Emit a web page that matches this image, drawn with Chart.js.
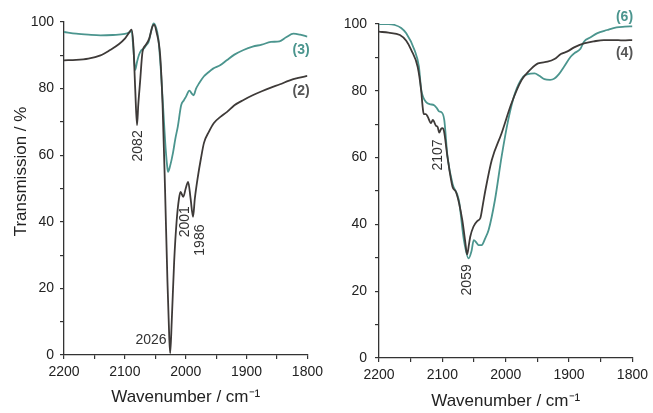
<!DOCTYPE html>
<html>
<head>
<meta charset="utf-8">
<script src="https://cdn.jsdelivr.net/npm/chart.js@4"></script>
<style>
  html, body { margin: 0; padding: 0; background: #fff; }
  #wrap { position: relative; width: 653px; height: 413px; }
  .box { position: absolute; top: 0; }
</style>
</head>
<body>
<div id="wrap">
  <div class="box" style="left:0"><canvas id="leftChart" width="328" height="413"></canvas></div>
  <div class="box" style="left:330px"><canvas id="rightChart" width="323" height="413"></canvas></div>
</div>
<script>
// left panel: spectra (2) and (3)
const wn2 = [2200, 2180, 2160, 2140, 2125, 2110, 2100, 2093, 2089, 2086, 2083, 2080, 2078, 2075, 2071, 2066, 2060, 2055, 2052, 2048, 2042, 2038, 2034, 2030, 2027, 2025.5, 2023, 2019, 2015, 2011, 2008.5, 2004, 2000, 1996, 1992, 1988, 1985, 1980.5, 1975, 1970, 1962, 1954, 1943, 1932, 1920, 1905, 1890, 1875, 1860, 1845, 1830, 1815, 1800];
const t2 = [88.5, 88.6, 89.0, 90.0, 91.5, 93.3, 95.0, 96.8, 97.7, 93, 80, 69, 75, 82, 91, 93, 95, 98.5, 99.2, 97, 90, 75, 50, 22, 5, 0.5, 10, 28, 40, 47, 49, 47.5, 50, 52, 47, 41.5, 47, 53, 59, 63.7, 67, 69.6, 71.5, 73, 75, 76.6, 78, 79.2, 80.3, 81.3, 82.4, 83.2, 83.8];

const wn3 = [2200, 2180, 2160, 2140, 2120, 2100, 2092, 2089, 2086, 2083, 2080, 2077, 2073, 2069, 2065, 2061, 2057, 2053, 2049, 2045, 2041, 2037, 2033, 2030, 2029, 2026, 2021, 2017, 2013, 2007.5, 2003, 1999.5, 1994, 1990, 1987, 1983, 1978, 1970, 1964.5, 1955, 1943.5, 1932, 1920, 1905, 1890, 1875, 1860, 1846, 1835, 1823, 1812, 1800];
const t3 = [97.0, 96.5, 96.2, 96.0, 96.1, 96.4, 97.0, 97.4, 92, 85.6, 88, 90, 91.5, 92, 93, 94, 97, 99.6, 98.5, 95, 86, 74, 62, 56, 55, 56.5, 60.6, 65, 68.6, 75, 76.5, 77.6, 79.4, 78.5, 78, 80, 81.6, 83.7, 84.6, 86, 87, 88.6, 90.2, 91.6, 92.6, 93.2, 94, 94.2, 95.4, 96.5, 96.2, 95.6];

// right panel: spectra (4) and (6)
const wn4 = [2200, 2185, 2167, 2157, 2149, 2139, 2133.5, 2131, 2129.5, 2126, 2123, 2118, 2115, 2110, 2107.5, 2105, 2102, 2100, 2097.5, 2092, 2084, 2078, 2068.5, 2064, 2061, 2058, 2056, 2051, 2045, 2040, 2036, 2032, 2022, 2006.5, 1991, 1975, 1965, 1962, 1949, 1934, 1923, 1913, 1902.5, 1892, 1876.5, 1861, 1845, 1830, 1815, 1800];
const t4 = [97.7, 97.4, 96.7, 95, 92.2, 87.2, 80.2, 75, 73.1, 73, 72.2, 70.3, 71.3, 69.5, 69.2, 67.5, 68.6, 68.8, 68, 60.3, 51.3, 49.5, 41.3, 35, 31, 34, 36.3, 39.3, 41, 41.9, 46, 50.3, 59.3, 67.3, 76.2, 83.2, 85.6, 86.2, 88.2, 88.7, 89.5, 91.0, 91.8, 93, 94.2, 94.8, 95.2, 95.2, 95.1, 95.2];

const wn6 = [2200, 2185, 2175, 2165, 2157, 2144, 2137, 2133.5, 2130, 2126, 2120, 2113, 2108, 2105, 2102.5, 2097, 2092, 2084, 2074, 2066, 2058.5, 2054, 2050.5, 2046, 2043, 2038, 2032, 2027, 2017, 2006.5, 1996, 1985.5, 1972.5, 1965, 1954.5, 1947, 1939, 1930, 1923, 1916, 1908, 1897.5, 1892, 1882, 1876.5, 1866, 1856, 1840, 1825, 1812, 1800];
const t6 = [100, 100, 99.7, 98.8, 97.2, 92.2, 87.2, 80.5, 78, 76.7, 76, 75.7, 74.6, 73.8, 73.7, 71.3, 60.5, 52.2, 47.3, 35.3, 29.8, 32, 35.3, 34.5, 33.8, 33.8, 36, 38.3, 47.3, 60.3, 71.3, 79.2, 84.2, 85, 85.2, 84.5, 83.5, 83.3, 83.7, 85, 87.2, 90.2, 91.2, 92.6, 94.7, 96, 97.2, 98.2, 99, 99.2, 99.3];

// peak labels (x = wavenumber, y = transmission)
const leftNotes = [
  { text: '2082', x: 2077.5, y: 62.8, rot: true },
  { text: '2001', x: 2001, y: 40, rot: true },
  { text: '1986', x: 1977, y: 34.5, rot: true },
  { text: '2026', x: 2057, y: 4.5 },
  { text: '(3)', x: 1810.5, y: 91.6, bold: true, teal: true },
  { text: '(2)', x: 1810.5, y: 79.3, bold: true }
];
const rightNotes = [
  { text: '2107', x: 2106.5, y: 60.8, rot: true },
  { text: '2059', x: 2061, y: 23.4, rot: true },
  { text: '(6)', x: 1812.5, y: 102.2, bold: true, teal: true },
  { text: '(4)', x: 1812.5, y: 91.2, bold: true }
];

const DARK = '#3e3a38';
const TEAL = '#4b958e';
const AXIS = '#333333';
const FONT = '"Liberation Sans", Arial, sans-serif';

const notesPlugin = {
  id: 'notes',
  afterDatasetsDraw(chart, args, opts) {
    const { ctx, scales: { x, y }, chartArea } = chart;
    (opts.items || []).forEach(n => {
      const px = x.getPixelForValue(n.x);
      const py = y.getPixelForValue(n.y);
      ctx.save();
      ctx.translate(px, py);
      if (n.rot) ctx.rotate(-Math.PI / 2);
      ctx.font = (n.bold ? 'bold ' : '') + '14px ' + FONT;
      ctx.fillStyle = n.teal ? TEAL : (n.bold ? '#555' : '#333');
      ctx.textAlign = 'center';
      ctx.textBaseline = 'middle';
      ctx.fillText(n.text, 0, 0);
      ctx.restore();
    });
    if (opts.yTitle) {
      ctx.save();
      ctx.translate(21, (chartArea.top + chartArea.bottom) / 2 - 17);
      ctx.rotate(-Math.PI / 2);
      ctx.font = '17px ' + FONT;
      ctx.fillStyle = '#222';
      ctx.textAlign = 'center';
      ctx.textBaseline = 'middle';
      ctx.fillText(opts.yTitle, 0, 0);
      ctx.restore();
    }
  }
};

function toPoints(xs, ys) {
  return xs.map((v, i) => ({ x: v, y: ys[i] }));
}

function makeChart(id, sets, notes, cfg) {
  const ctx = document.getElementById(id).getContext('2d');
  return new Chart(ctx, {
    type: 'line',
    data: {
      datasets: sets.map(s => ({
        data: toPoints(s.xs, s.ys),
        borderColor: s.color,
        borderWidth: 1.8,
        pointRadius: 0,
        fill: false,
        cubicInterpolationMode: 'monotone'
      }))
    },
    options: {
      responsive: false,
      animation: false,
      layout: { padding: { top: cfg.top, right: cfg.right, left: 0, bottom: 0 } },
      scales: {
        x: {
          type: 'linear',
          reverse: true,
          min: 1800,
          max: 2200,
          afterFit: s => { s.height = cfg.xHeight; },
          grid: { drawOnChartArea: false, tickLength: 4, color: AXIS, lineWidth: 1.2 },
          border: { color: AXIS, width: 1.3 },
          ticks: {
            stepSize: 50,
            autoSkip: false,
            maxRotation: 0,
            padding: 5,
            color: '#222',
            font: { family: FONT, size: 14 },
            callback: v => (v % 100 === 0 ? v : '')
          },
          title: {
            display: true,
            text: 'Wavenumber / cm⁻¹',
            color: '#222',
            font: { family: FONT, size: 17 },
            padding: { top: 0, bottom: cfg.titlePad }
          }
        },
        y: {
          min: 0,
          max: 100,
          afterFit: s => { s.width = cfg.yWidth; },
          grid: { drawOnChartArea: false, tickLength: 4, color: AXIS, lineWidth: 1.2 },
          border: { color: AXIS, width: 1.3 },
          ticks: {
            stepSize: 10,
            autoSkip: false,
            padding: cfg.yPad,
            color: '#222',
            font: { family: FONT, size: 14 },
            callback: v => (v % 20 === 0 ? v : '')
          }
        }
      },
      plugins: {
        legend: { display: false },
        tooltip: { enabled: false },
        notes: { items: notes, yTitle: cfg.yTitle }
      }
    },
    plugins: [notesPlugin]
  });
}

makeChart('leftChart',
  [{ xs: wn2, ys: t2, color: DARK }, { xs: wn3, ys: t3, color: TEAL }],
  leftNotes,
  { top: 22, right: 16, xHeight: 58, yWidth: 64, yPad: 6, titlePad: 5, yTitle: 'Transmission / %' });

makeChart('rightChart',
  [{ xs: wn4, ys: t4, color: DARK }, { xs: wn6, ys: t6, color: TEAL }],
  rightNotes,
  { top: 24, right: 17, xHeight: 55, yWidth: 49, yPad: 8, titlePad: 1, yTitle: null });
</script>
</body>
</html>
